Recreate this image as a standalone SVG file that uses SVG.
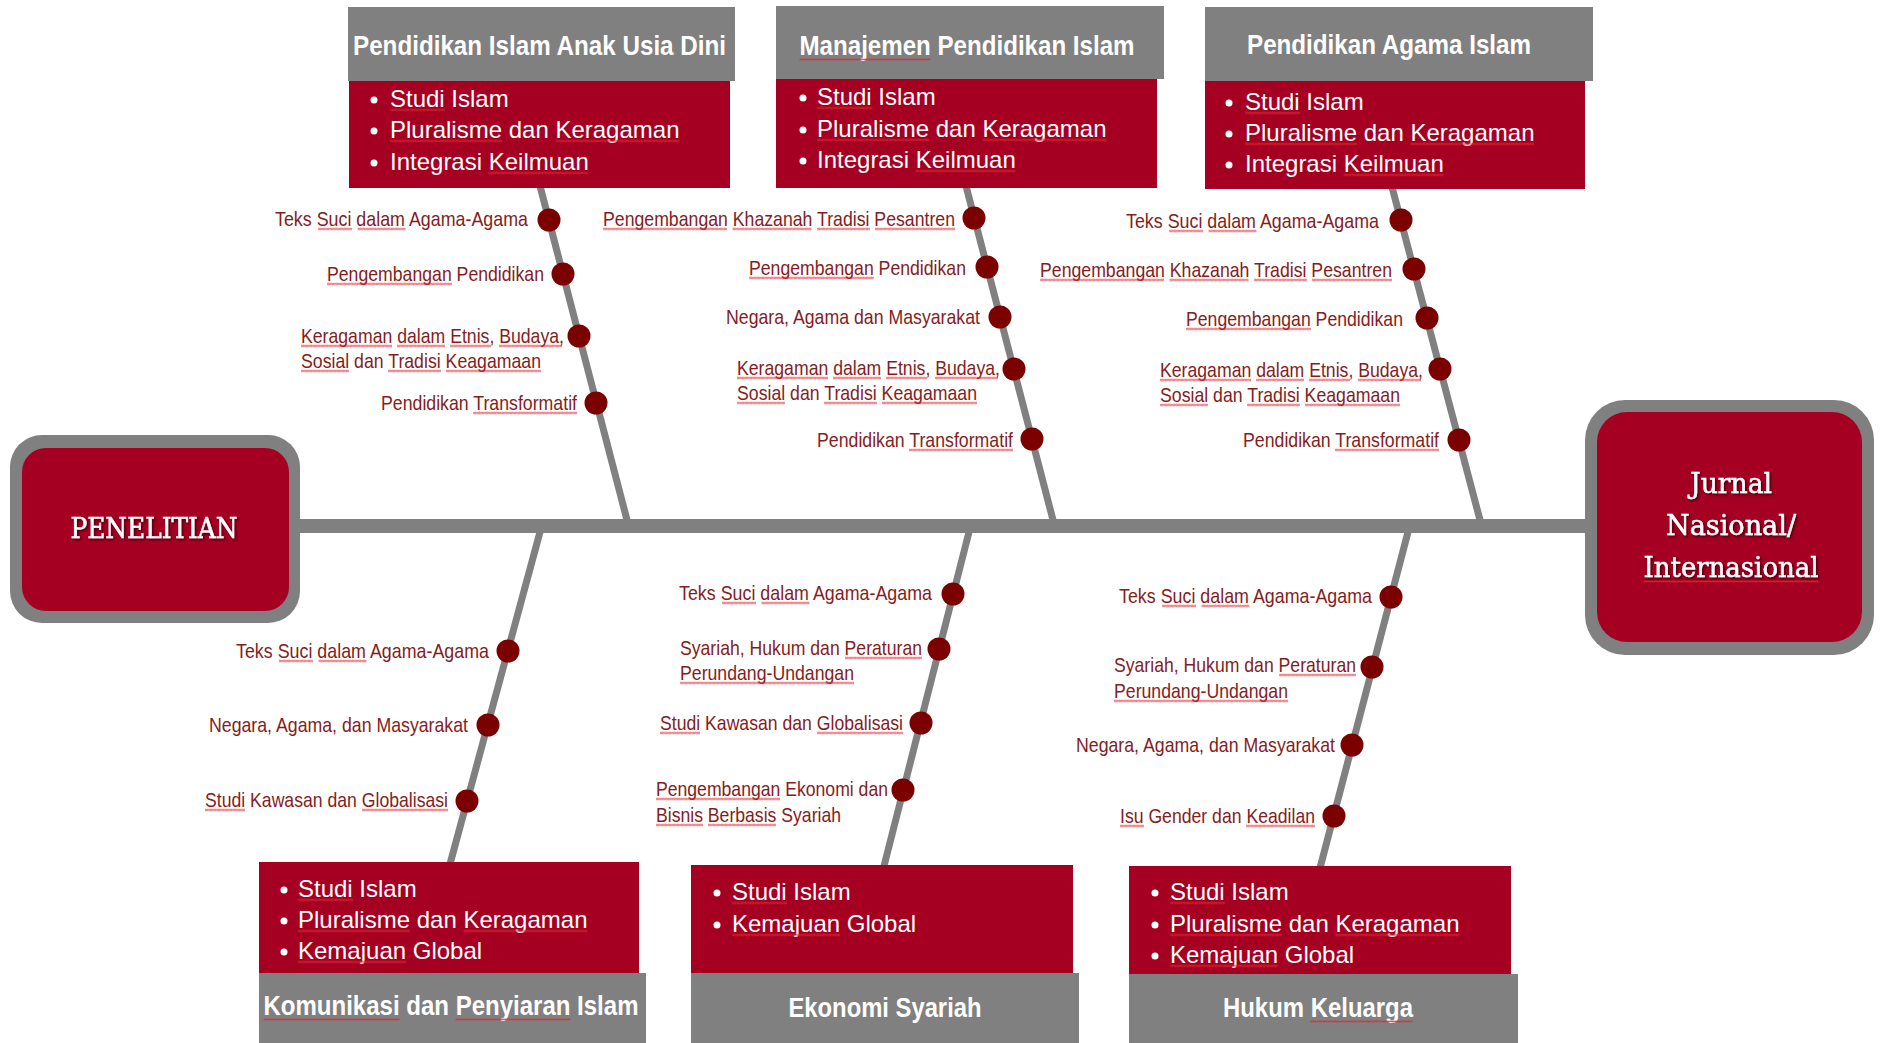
<svg xmlns="http://www.w3.org/2000/svg" width="1886" height="1043" viewBox="0 0 1886 1043">
<defs>
<style>
.box{fill:#A50021}
.head{fill:#808080}
.ht{font-family:"Liberation Sans",Arial,sans-serif;font-weight:bold;font-size:28px;fill:#fff;text-anchor:middle}
.bt{font-family:"Liberation Sans",Arial,sans-serif;font-size:24px;fill:#fff}
.bul{fill:#fff}
.lb{font-family:"Liberation Sans",Arial,sans-serif;font-size:21px;fill:#861C1C}
.r{text-anchor:end}
.dot{fill:#7B0000}
.sq{fill:url(#wave)}
.title{font-family:"DejaVu Serif","Liberation Serif",serif;font-size:27px;fill:#fff;stroke:#fff;stroke-width:0.5;text-anchor:middle}
.branch{stroke:#808080;stroke-width:7;fill:none}
.spine{stroke:#808080;stroke-width:14;fill:none}
</style>
<!-- spell-check style wavy underline, tiled from the rect's own origin -->
<pattern id="wave" width="4" height="3" patternUnits="userSpaceOnUse">
<path d="M0,2.4 L1,0.6 L2,2.4 L3,0.6 L4,2.4" fill="none" stroke="#E3262E" stroke-width="0.8"/>
</pattern>
<filter id="shadow" x="-10%" y="-20%" width="120%" height="140%">
<feDropShadow dx="1.5" dy="1.5" stdDeviation="0.8" flood-color="#000" flood-opacity="0.6"/>
</filter>
</defs>
<rect width="1886" height="1043" fill="#fff"/>

<!-- spine and bones -->
<g id="connectors">
<line class="spine" x1="295" y1="526" x2="1590" y2="526"/>
<line class="branch" x1="540" y1="186" x2="627" y2="520"/>
<line class="branch" x1="966" y1="186" x2="1053" y2="520"/>
<line class="branch" x1="1392" y1="187" x2="1480" y2="520"/>
<line class="branch" x1="540" y1="532" x2="450" y2="864"/>
<line class="branch" x1="969" y1="532" x2="884" y2="866"/>
<line class="branch" x1="1408" y1="532" x2="1320" y2="868"/>
</g>

<!-- head and tail -->
<g id="penelitian">
<rect x="10" y="435" width="290" height="188" rx="32" fill="#808080"/>
<rect x="22" y="448" width="267" height="163" rx="24" class="box"/>
<text class="title" x="154" y="538" textLength="167" lengthAdjust="spacingAndGlyphs" filter="url(#shadow)">PENELITIAN</text>
</g>
<g id="jurnal">
<rect x="1585" y="400" width="289" height="255" rx="40" fill="#808080"/>
<rect x="1597" y="412" width="265" height="230" rx="30" class="box"/>
<g filter="url(#shadow)">
<text class="title" x="1731" y="493" textLength="82" lengthAdjust="spacingAndGlyphs">Jurnal</text>
<text class="title" x="1731" y="535" textLength="130" lengthAdjust="spacingAndGlyphs">Nasional/</text>
<text class="title" x="1731" y="577" textLength="175" lengthAdjust="spacingAndGlyphs">Internasional</text>
</g>
<rect class="sq" width="175" height="3" transform="translate(1643.5,580)"/>
</g>

<!-- category boxes, top row -->
<g id="piaud">
<rect class="head" x="348" y="7" width="387" height="74"/>
<rect class="box" x="349" y="81" width="381" height="107"/>
<text class="ht" x="539.5" y="55" textLength="373" lengthAdjust="spacingAndGlyphs">Pendidikan Islam Anak Usia Dini</text>
<circle class="bul" cx="374" cy="100" r="3.5"/><text class="bt" x="390" y="107">Studi Islam</text>
<circle class="bul" cx="374" cy="131" r="3.5"/><text class="bt" x="390" y="138">Pluralisme dan Keragaman</text>
<circle class="bul" cx="374" cy="163" r="3.5"/><text class="bt" x="390" y="170">Integrasi Keilmuan</text>
<rect class="sq" width="55" height="3" transform="translate(390,108.5)"/>
<rect class="sq" width="112" height="3" transform="translate(390,139.5)"/>
<rect class="sq" width="124" height="3" transform="translate(555.5,139.5)"/>
<rect class="sq" width="100" height="3" transform="translate(488.5,171.5)"/>
</g>
<g id="mpi">
<rect class="head" x="776" y="6" width="388" height="73"/>
<rect class="box" x="776" y="79" width="381" height="109"/>
<text class="ht" x="967" y="55" textLength="335" lengthAdjust="spacingAndGlyphs">Manajemen Pendidikan Islam</text>
<rect class="sq" width="131" height="3" transform="translate(799.5,58)"/>
<circle class="bul" cx="803" cy="98" r="3.5"/><text class="bt" x="817" y="105">Studi Islam</text>
<circle class="bul" cx="803" cy="130" r="3.5"/><text class="bt" x="817" y="137">Pluralisme dan Keragaman</text>
<circle class="bul" cx="803" cy="161" r="3.5"/><text class="bt" x="817" y="168">Integrasi Keilmuan</text>
<rect class="sq" width="55" height="3" transform="translate(817,106.5)"/>
<rect class="sq" width="112" height="3" transform="translate(817,138.5)"/>
<rect class="sq" width="124" height="3" transform="translate(982.5,138.5)"/>
<rect class="sq" width="100" height="3" transform="translate(915.5,169.5)"/>
</g>
<g id="pai">
<rect class="head" x="1205" y="7" width="388" height="74"/>
<rect class="box" x="1205" y="81" width="380" height="108"/>
<text class="ht" x="1389" y="54" textLength="284" lengthAdjust="spacingAndGlyphs">Pendidikan Agama Islam</text>
<circle class="bul" cx="1229" cy="103" r="3.5"/><text class="bt" x="1245" y="110">Studi Islam</text>
<circle class="bul" cx="1229" cy="134" r="3.5"/><text class="bt" x="1245" y="141">Pluralisme dan Keragaman</text>
<circle class="bul" cx="1229" cy="165" r="3.5"/><text class="bt" x="1245" y="172">Integrasi Keilmuan</text>
<rect class="sq" width="55" height="3" transform="translate(1245,111.5)"/>
<rect class="sq" width="112" height="3" transform="translate(1245,142.5)"/>
<rect class="sq" width="124" height="3" transform="translate(1410.5,142.5)"/>
<rect class="sq" width="100" height="3" transform="translate(1343.5,173.5)"/>
</g>

<!-- category boxes, bottom row -->
<g id="kpi">
<rect class="box" x="259" y="862" width="380" height="111"/>
<rect class="head" x="259" y="973" width="387" height="70"/>
<text class="ht" x="451" y="1015" textLength="375" lengthAdjust="spacingAndGlyphs">Komunikasi dan Penyiaran Islam</text>
<rect class="sq" width="136" height="3" transform="translate(263.5,1018)"/>
<rect class="sq" width="115" height="3" transform="translate(455.5,1018)"/>
<circle class="bul" cx="284" cy="890" r="3.5"/><text class="bt" x="298" y="897">Studi Islam</text>
<circle class="bul" cx="284" cy="921" r="3.5"/><text class="bt" x="298" y="928">Pluralisme dan Keragaman</text>
<circle class="bul" cx="284" cy="952" r="3.5"/><text class="bt" x="298" y="959">Kemajuan Global</text>
<rect class="sq" width="55" height="3" transform="translate(298,898.5)"/>
<rect class="sq" width="112" height="3" transform="translate(298,929.5)"/>
<rect class="sq" width="124" height="3" transform="translate(463.5,929.5)"/>
<rect class="sq" width="108" height="3" transform="translate(298,960.5)"/>
</g>
<g id="ekonomi-syariah">
<rect class="box" x="691" y="865" width="382" height="108"/>
<rect class="head" x="691" y="973" width="388" height="70"/>
<text class="ht" x="885" y="1017" textLength="193" lengthAdjust="spacingAndGlyphs">Ekonomi Syariah</text>
<circle class="bul" cx="717" cy="893" r="3.5"/><text class="bt" x="732" y="900">Studi Islam</text>
<circle class="bul" cx="717" cy="925" r="3.5"/><text class="bt" x="732" y="932">Kemajuan Global</text>
<rect class="sq" width="55" height="3" transform="translate(732,901.5)"/>
<rect class="sq" width="108" height="3" transform="translate(732,933.5)"/>
</g>
<g id="hukum-keluarga">
<rect class="box" x="1129" y="866" width="382" height="108"/>
<rect class="head" x="1129" y="974" width="389" height="69"/>
<text class="ht" x="1318" y="1017" textLength="190" lengthAdjust="spacingAndGlyphs">Hukum Keluarga</text>
<rect class="sq" width="102" height="3" transform="translate(1310.5,1020)"/>
<circle class="bul" cx="1155" cy="893" r="3.5"/><text class="bt" x="1170" y="900">Studi Islam</text>
<circle class="bul" cx="1155" cy="925" r="3.5"/><text class="bt" x="1170" y="932">Pluralisme dan Keragaman</text>
<circle class="bul" cx="1155" cy="956" r="3.5"/><text class="bt" x="1170" y="963">Kemajuan Global</text>
<rect class="sq" width="55" height="3" transform="translate(1170,901.5)"/>
<rect class="sq" width="112" height="3" transform="translate(1170,933.5)"/>
<rect class="sq" width="124" height="3" transform="translate(1335.5,933.5)"/>
<rect class="sq" width="108" height="3" transform="translate(1170,964.5)"/>
</g>

<!-- sub-causes along each bone -->
<g id="piaud-topics">
<circle class="dot" cx="549" cy="220" r="11.5"/>
<text class="lb r" x="528" y="226" textLength="253" lengthAdjust="spacingAndGlyphs">Teks Suci dalam Agama-Agama</text>
<rect class="sq" width="34" height="3" transform="translate(318,227.5)"/>
<rect class="sq" width="48" height="3" transform="translate(357.5,227.5)"/>
<circle class="dot" cx="563" cy="274" r="11.5"/>
<text class="lb r" x="544" y="281" textLength="217" lengthAdjust="spacingAndGlyphs">Pengembangan Pendidikan</text>
<rect class="sq" width="125" height="3" transform="translate(327,282.5)"/>
<circle class="dot" cx="579" cy="336" r="11.5"/>
<text class="lb" x="301" y="343" textLength="263" lengthAdjust="spacingAndGlyphs">Keragaman dalam Etnis, Budaya,</text>
<text class="lb" x="301" y="368" textLength="240" lengthAdjust="spacingAndGlyphs">Sosial dan Tradisi Keagamaan</text>
<rect class="sq" width="91" height="3" transform="translate(301,344.5)"/>
<rect class="sq" width="48" height="3" transform="translate(397,344.5)"/>
<rect class="sq" width="41" height="3" transform="translate(450,344.5)"/>
<rect class="sq" width="63" height="3" transform="translate(499,344.5)"/>
<rect class="sq" width="48" height="3" transform="translate(301,369.5)"/>
<rect class="sq" width="53" height="3" transform="translate(388,369.5)"/>
<rect class="sq" width="95" height="3" transform="translate(446,369.5)"/>
<circle class="dot" cx="596" cy="403" r="11.5"/>
<text class="lb r" x="577" y="410" textLength="196" lengthAdjust="spacingAndGlyphs">Pendidikan Transformatif</text>
<rect class="sq" width="104" height="3" transform="translate(473,411.5)"/>
</g>

<g id="mpi-topics">
<circle class="dot" cx="974" cy="218" r="11.5"/>
<text class="lb r" x="955" y="226" textLength="352" lengthAdjust="spacingAndGlyphs">Pengembangan Khazanah Tradisi Pesantren</text>
<rect class="sq" width="124" height="3" transform="translate(603,227.5)"/>
<rect class="sq" width="79" height="3" transform="translate(732.5,227.5)"/>
<rect class="sq" width="53" height="3" transform="translate(817,227.5)"/>
<rect class="sq" width="80" height="3" transform="translate(875,227.5)"/>
<circle class="dot" cx="987" cy="267" r="11.5"/>
<text class="lb r" x="966" y="275" textLength="217" lengthAdjust="spacingAndGlyphs">Pengembangan Pendidikan</text>
<rect class="sq" width="125" height="3" transform="translate(749,276.5)"/>
<circle class="dot" cx="1000" cy="317" r="11.5"/>
<text class="lb r" x="980" y="324" textLength="254" lengthAdjust="spacingAndGlyphs">Negara, Agama dan Masyarakat</text>
<circle class="dot" cx="1014" cy="369" r="11.5"/>
<text class="lb" x="737" y="375" textLength="263" lengthAdjust="spacingAndGlyphs">Keragaman dalam Etnis, Budaya,</text>
<text class="lb" x="737" y="400" textLength="240" lengthAdjust="spacingAndGlyphs">Sosial dan Tradisi Keagamaan</text>
<rect class="sq" width="91" height="3" transform="translate(737,376.5)"/>
<rect class="sq" width="48" height="3" transform="translate(833,376.5)"/>
<rect class="sq" width="41" height="3" transform="translate(886,376.5)"/>
<rect class="sq" width="63" height="3" transform="translate(935,376.5)"/>
<rect class="sq" width="48" height="3" transform="translate(737,401.5)"/>
<rect class="sq" width="53" height="3" transform="translate(824,401.5)"/>
<rect class="sq" width="95" height="3" transform="translate(882,401.5)"/>
<circle class="dot" cx="1032" cy="439" r="11.5"/>
<text class="lb r" x="1013" y="447" textLength="196" lengthAdjust="spacingAndGlyphs">Pendidikan Transformatif</text>
<rect class="sq" width="104" height="3" transform="translate(909,448.5)"/>
</g>

<g id="pai-topics">
<circle class="dot" cx="1401" cy="220" r="11.5"/>
<text class="lb r" x="1379" y="228" textLength="253" lengthAdjust="spacingAndGlyphs">Teks Suci dalam Agama-Agama</text>
<rect class="sq" width="34" height="3" transform="translate(1169,229.5)"/>
<rect class="sq" width="48" height="3" transform="translate(1208.5,229.5)"/>
<circle class="dot" cx="1414" cy="269" r="11.5"/>
<text class="lb r" x="1392" y="277" textLength="352" lengthAdjust="spacingAndGlyphs">Pengembangan Khazanah Tradisi Pesantren</text>
<rect class="sq" width="124" height="3" transform="translate(1040,278.5)"/>
<rect class="sq" width="79" height="3" transform="translate(1169.5,278.5)"/>
<rect class="sq" width="53" height="3" transform="translate(1254,278.5)"/>
<rect class="sq" width="80" height="3" transform="translate(1312,278.5)"/>
<circle class="dot" cx="1427" cy="318" r="11.5"/>
<text class="lb r" x="1403" y="326" textLength="217" lengthAdjust="spacingAndGlyphs">Pengembangan Pendidikan</text>
<rect class="sq" width="125" height="3" transform="translate(1186,327.5)"/>
<circle class="dot" cx="1440" cy="369" r="11.5"/>
<text class="lb" x="1160" y="377" textLength="263" lengthAdjust="spacingAndGlyphs">Keragaman dalam Etnis, Budaya,</text>
<text class="lb" x="1160" y="402" textLength="240" lengthAdjust="spacingAndGlyphs">Sosial dan Tradisi Keagamaan</text>
<rect class="sq" width="91" height="3" transform="translate(1160,378.5)"/>
<rect class="sq" width="48" height="3" transform="translate(1256,378.5)"/>
<rect class="sq" width="41" height="3" transform="translate(1309,378.5)"/>
<rect class="sq" width="63" height="3" transform="translate(1358,378.5)"/>
<rect class="sq" width="48" height="3" transform="translate(1160,403.5)"/>
<rect class="sq" width="53" height="3" transform="translate(1247,403.5)"/>
<rect class="sq" width="95" height="3" transform="translate(1305,403.5)"/>
<circle class="dot" cx="1459" cy="440" r="11.5"/>
<text class="lb r" x="1439" y="447" textLength="196" lengthAdjust="spacingAndGlyphs">Pendidikan Transformatif</text>
<rect class="sq" width="104" height="3" transform="translate(1335,448.5)"/>
</g>

<g id="kpi-topics">
<circle class="dot" cx="508" cy="651" r="11.5"/>
<text class="lb r" x="489" y="658" textLength="253" lengthAdjust="spacingAndGlyphs">Teks Suci dalam Agama-Agama</text>
<rect class="sq" width="34" height="3" transform="translate(279,659.5)"/>
<rect class="sq" width="48" height="3" transform="translate(318.5,659.5)"/>
<circle class="dot" cx="488" cy="725" r="11.5"/>
<text class="lb r" x="468" y="732" textLength="259" lengthAdjust="spacingAndGlyphs">Negara, Agama, dan Masyarakat</text>
<circle class="dot" cx="467" cy="801" r="11.5"/>
<text class="lb r" x="448" y="807" textLength="243" lengthAdjust="spacingAndGlyphs">Studi Kawasan dan Globalisasi</text>
<rect class="sq" width="40" height="3" transform="translate(205,808.5)"/>
<rect class="sq" width="86" height="3" transform="translate(362,808.5)"/>
</g>

<g id="ekonomi-topics">
<circle class="dot" cx="953" cy="594" r="11.5"/>
<text class="lb r" x="932" y="600" textLength="253" lengthAdjust="spacingAndGlyphs">Teks Suci dalam Agama-Agama</text>
<rect class="sq" width="34" height="3" transform="translate(722,601.5)"/>
<rect class="sq" width="48" height="3" transform="translate(761.5,601.5)"/>
<circle class="dot" cx="939" cy="649" r="11.5"/>
<text class="lb" x="680" y="655" textLength="242" lengthAdjust="spacingAndGlyphs">Syariah, Hukum dan Peraturan</text>
<text class="lb" x="680" y="680" textLength="174" lengthAdjust="spacingAndGlyphs">Perundang-Undangan</text>
<rect class="sq" width="77" height="3" transform="translate(845,656.5)"/>
<rect class="sq" width="174" height="3" transform="translate(680,681.5)"/>
<circle class="dot" cx="921" cy="723" r="11.5"/>
<text class="lb r" x="903" y="730" textLength="243" lengthAdjust="spacingAndGlyphs">Studi Kawasan dan Globalisasi</text>
<rect class="sq" width="40" height="3" transform="translate(660,731.5)"/>
<rect class="sq" width="86" height="3" transform="translate(817,731.5)"/>
<circle class="dot" cx="903" cy="790" r="11.5"/>
<text class="lb" x="656" y="796" textLength="232" lengthAdjust="spacingAndGlyphs">Pengembangan Ekonomi dan</text>
<text class="lb" x="656" y="822" textLength="185" lengthAdjust="spacingAndGlyphs">Bisnis Berbasis Syariah</text>
<rect class="sq" width="124" height="3" transform="translate(656,797.5)"/>
<rect class="sq" width="47" height="3" transform="translate(656,823.5)"/>
<rect class="sq" width="68" height="3" transform="translate(708,823.5)"/>
</g>

<g id="hukum-topics">
<circle class="dot" cx="1391" cy="597" r="11.5"/>
<text class="lb r" x="1372" y="603" textLength="253" lengthAdjust="spacingAndGlyphs">Teks Suci dalam Agama-Agama</text>
<rect class="sq" width="34" height="3" transform="translate(1162,604.5)"/>
<rect class="sq" width="48" height="3" transform="translate(1201.5,604.5)"/>
<circle class="dot" cx="1372" cy="667" r="11.5"/>
<text class="lb" x="1114" y="672" textLength="242" lengthAdjust="spacingAndGlyphs">Syariah, Hukum dan Peraturan</text>
<text class="lb" x="1114" y="698" textLength="174" lengthAdjust="spacingAndGlyphs">Perundang-Undangan</text>
<rect class="sq" width="77" height="3" transform="translate(1279,673.5)"/>
<rect class="sq" width="174" height="3" transform="translate(1114,699.5)"/>
<circle class="dot" cx="1352" cy="745" r="11.5"/>
<text class="lb r" x="1335" y="752" textLength="259" lengthAdjust="spacingAndGlyphs">Negara, Agama, dan Masyarakat</text>
<circle class="dot" cx="1334" cy="816" r="11.5"/>
<text class="lb r" x="1315" y="823" textLength="195" lengthAdjust="spacingAndGlyphs">Isu Gender dan Keadilan</text>
<rect class="sq" width="24" height="3" transform="translate(1120,824.5)"/>
<rect class="sq" width="69" height="3" transform="translate(1246,824.5)"/>
</g>
</svg>
